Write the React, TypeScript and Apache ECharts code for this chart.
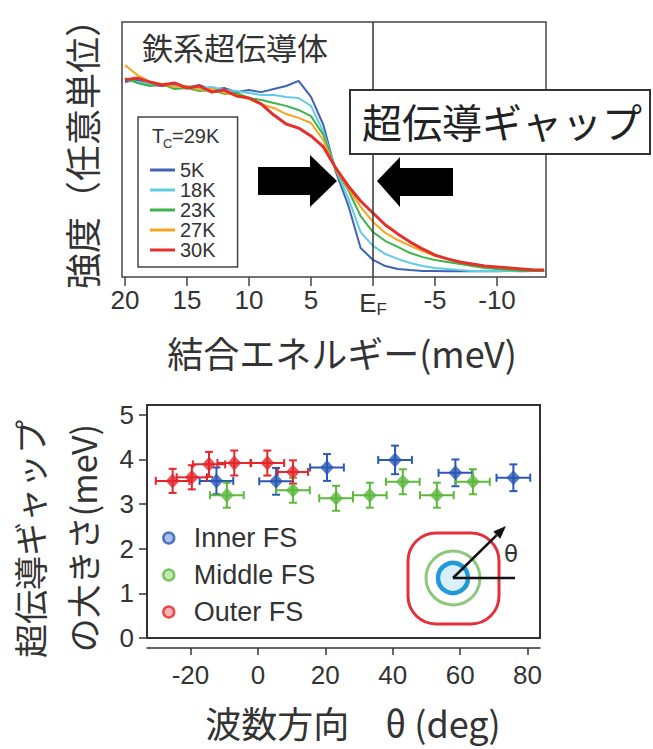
import React, { useEffect, useRef } from 'react';
import * as echarts from 'echarts';

// ---------- Top panel: spectra ----------
const energy = [20, 19, 18, 17, 16, 15, 14, 13, 12, 11, 10, 9, 8, 7, 6, 5, 4, 3, 2, 1, 0, -1, -2, -3, -4, -5, -6, -7, -8, -9, -10, -11, -12, -13, -13.8];
const int5K = [76.5, 77.3, 75.3, 74.9, 75.7, 74.1, 75.3, 73.3, 74.1, 72.5, 73.3, 72.5, 73.7, 74.9, 76.9, 70.6, 59.6, 41.2, 28.2, 11.4, 6.7, 4.3, 3.1, 2.7, 2.4, 2.4, 2.3, 2.4, 2.3, 2.4, 2.3, 2.4, 2.3, 2.4, 2.4];
const int18K = [77.3, 76.5, 75.7, 75.7, 74.9, 74.9, 74.1, 74.5, 73.3, 72.9, 72.2, 71.4, 71.4, 70.6, 70.2, 67.1, 56.9, 42.0, 31.0, 17.6, 12.2, 9.0, 7.1, 5.5, 4.3, 3.5, 3.1, 2.7, 2.4, 2.4, 2.4, 2.4, 2.4, 2.4, 2.4];
const int23K = [78.0, 76.1, 74.9, 75.7, 73.7, 74.1, 72.9, 73.3, 71.8, 72.2, 70.2, 69.4, 68.2, 67.1, 65.5, 63.1, 55.7, 42.0, 34.1, 23.9, 17.6, 14.1, 11.8, 9.4, 7.8, 6.7, 5.9, 5.1, 4.3, 3.5, 3.1, 2.7, 2.4, 2.4, 2.4];
const int27K = [83.1, 79.2, 76.5, 75.7, 74.5, 74.9, 73.3, 73.7, 72.2, 71.4, 69.8, 67.8, 66.3, 63.9, 62.4, 60.4, 53.7, 42.0, 34.9, 27.5, 21.6, 17.3, 14.5, 12.2, 10.2, 8.2, 7.1, 5.9, 5.1, 4.3, 3.9, 3.5, 3.1, 2.7, 2.7];
const int30K = [77.3, 78.0, 76.5, 75.3, 76.1, 74.1, 74.9, 72.5, 73.3, 71.0, 70.2, 67.8, 63.5, 60.0, 58.4, 55.3, 51.0, 42.7, 35.7, 29.8, 25.1, 20.4, 16.9, 13.7, 11.0, 8.6, 7.1, 5.9, 5.1, 4.3, 3.9, 3.5, 3.1, 2.7, 2.7];
const tempNames = ['5K', '18K', '23K', '27K', '30K'];
const tempColors = ['#3f62b8', '#62cbe4', '#3db54b', '#f6a31f', '#e5302a'];
const energyTicks = [20, 15, 10, 5, 0, -5, -10];

// ---------- Bottom panel: gap vs angle ----------
const innerAngle = [-12.3, 5.4, 20.5, 40.7, 58.6, 75.8];
const innerGap = [3.52, 3.51, 3.82, 3.99, 3.7, 3.59];
const innerXErr = [5, 5, 5, 5, 5, 5];
const innerYErr = [0.3, 0.3, 0.3, 0.32, 0.3, 0.3];
const middleAngle = [-9.2, 10.4, 23.2, 33.2, 43.0, 53.1, 63.8];
const middleGap = [3.2, 3.31, 3.13, 3.2, 3.5, 3.2, 3.5];
const middleXErr = [5, 5, 5, 5, 5, 5, 5];
const middleYErr = [0.28, 0.28, 0.28, 0.28, 0.28, 0.28, 0.28];
const outerAngle = [-25.3, -19.6, -14.5, -7.0, 2.8, 10.4];
const outerGap = [3.52, 3.6, 3.89, 3.92, 3.92, 3.72];
const outerXErr = [5, 4.5, 4.8, 5, 5, 4.5];
const outerYErr = [0.27, 0.27, 0.28, 0.28, 0.28, 0.26];
const fsNames = ['Inner FS', 'Middle FS', 'Outer FS'];
const fsColors = ['#2a58b5', '#5db83c', '#e5262d'];
const fsLight = ['#8fb0e8', '#b5e2a0', '#f5a0a4'];
const angleTicks = [-20, 0, 20, 40, 60, 80];
const gapTicks = [0, 1, 2, 3, 4, 5];

const CJK = '"Noto Sans CJK JP"';
const LAT = '"Liberation Sans", Arial, sans-serif';

function errorSeries(name: string, color: string, xs: number[], ys: number[], ex: number[], ey: number[]) {
  return {
    name: name + ' err',
    type: 'custom',
    xAxisIndex: 1,
    yAxisIndex: 1,
    z: 2,
    data: xs.map((x, i) => [x, ys[i], ex[i], ey[i]]),
    encode: { x: 0, y: 1 },
    renderItem: (params: any, api: any) => {
      const x = api.value(0), y = api.value(1), dx = api.value(2), dy = api.value(3);
      const l = api.coord([x - dx, y]);
      const r = api.coord([x + dx, y]);
      const t = api.coord([x, y + dy]);
      const b = api.coord([x, y - dy]);
      const cap = 4;
      const st = { stroke: color, lineWidth: 2 };
      return {
        type: 'group',
        children: [
          { type: 'line', shape: { x1: l[0], y1: l[1], x2: r[0], y2: r[1] }, style: st },
          { type: 'line', shape: { x1: t[0], y1: t[1], x2: b[0], y2: b[1] }, style: st },
          { type: 'line', shape: { x1: l[0], y1: l[1] - cap, x2: l[0], y2: l[1] + cap }, style: st },
          { type: 'line', shape: { x1: r[0], y1: r[1] - cap, x2: r[0], y2: r[1] + cap }, style: st },
          { type: 'line', shape: { x1: t[0] - cap, y1: t[1], x2: t[0] + cap, y2: t[1] }, style: st },
          { type: 'line', shape: { x1: b[0] - cap, y1: b[1], x2: b[0] + cap, y2: b[1] }, style: st },
        ],
      };
    },
  };
}

function scatterSeries(name: string, color: string, xs: number[], ys: number[]) {
  return {
    name,
    type: 'scatter',
    xAxisIndex: 1,
    yAxisIndex: 1,
    z: 3,
    symbol: 'diamond',
    symbolSize: [14, 15],
    itemStyle: { color },
    data: xs.map((x, i) => [x, ys[i]]),
  };
}

export default function App() {
  const ref = useRef<HTMLDivElement>(null);
  useEffect(() => {
    document.body.style.margin = '0';
    const chart = echarts.init(ref.current!, null, { renderer: 'svg', width: 653, height: 749 });
    const spectra = [int5K, int18K, int23K, int27K, int30K];

    const lineSeries: any[] = spectra.map((arr, k) => ({
      name: tempNames[k],
      type: 'line',
      xAxisIndex: 0,
      yAxisIndex: 0,
      showSymbol: false,
      symbol: 'none',
      color: tempColors[k],
      lineStyle: { color: tempColors[k], width: k === 4 ? 3 : 2 },
      data: energy.map((e, i) => [e, arr[i]]),
      z: 2 + k * 0.1,
      markLine: k === 0 ? {
        silent: true,
        symbol: ['none', 'none'],
        label: { show: false },
        lineStyle: { color: '#333', width: 1.5, type: 'solid' },
        data: [{ xAxis: 0 }],
      } : undefined,
    }));

    // arrowhead for inset
    const cx = 453, cy = 578;
    const tip = [506, 526];
    const ux = (tip[0] - cx), uy = (tip[1] - cy);
    const ul = Math.hypot(ux, uy);
    const u = [ux / ul, uy / ul];
    const p = [-u[1], u[0]];
    const base = [tip[0] - 13 * u[0], tip[1] - 13 * u[1]];

    const option: any = {
      animation: false,
      backgroundColor: '#fff',
      grid: [
        { left: 122, top: 22, width: 424, height: 255, show: true, borderColor: '#444', borderWidth: 1.5, backgroundColor: 'transparent' },
        { left: 147, top: 405, width: 393, height: 233, show: true, borderColor: '#333', borderWidth: 2, backgroundColor: 'transparent' },
      ],
      xAxis: [
        {
          type: 'value', gridIndex: 0, min: -13.95, max: 20.24, inverse: true,
          axisLine: { show: false, onZero: false },
          splitLine: { show: false },
          axisTick: { show: true, length: 9, lineStyle: { color: '#444', width: 1.5 }, customValues: energyTicks },
          axisLabel: {
            customValues: energyTicks,
            margin: 10,
            color: '#333',
            fontSize: 26,
            fontFamily: LAT,
            formatter: (v: number) => (v === 0 ? '{e|E}{f|F}' : String(v)),
            rich: {
              e: { fontSize: 26, fontFamily: LAT, color: '#333' },
              f: { fontSize: 17, fontFamily: LAT, color: '#333', padding: [14, 0, 0, 0] },
            },
          },
        },
        {
          type: 'value', gridIndex: 1, min: -32.9, max: 83.7, offset: 10,
          axisLine: { show: true, onZero: false, lineStyle: { color: '#333', width: 1.5 } },
          splitLine: { show: false },
          axisTick: { show: true, length: 7, lineStyle: { color: '#333', width: 1.5 }, customValues: angleTicks },
          axisLabel: { customValues: angleTicks, margin: 14, color: '#333', fontSize: 26, fontFamily: LAT },
        },
      ],
      yAxis: [
        {
          type: 'value', gridIndex: 0, min: 0, max: 100,
          axisLine: { show: false, onZero: false }, axisTick: { show: false }, axisLabel: { show: false }, splitLine: { show: false },
        },
        {
          type: 'value', gridIndex: 1, min: 0, max: 5.22,
          axisLine: { show: true, onZero: false, lineStyle: { color: '#333', width: 2 } },
          splitLine: { show: false },
          axisTick: { show: true, length: 8, lineStyle: { color: '#333', width: 1.5 }, customValues: gapTicks },
          axisLabel: { customValues: gapTicks, margin: 13, color: '#333', fontSize: 26, fontFamily: LAT },
        },
      ],
      legend: [
        {
          data: tempNames,
          orient: 'vertical',
          left: 138,
          top: 117,
          padding: [43, 22, 7, 12],
          itemGap: 0,
          itemWidth: 25,
          itemHeight: 3,
          icon: 'rect',
          borderColor: '#444',
          borderWidth: 1.5,
          backgroundColor: '#fff',
          textStyle: { fontSize: 20, lineHeight: 20, fontFamily: LAT, color: '#333' },
          selectedMode: false,
        },
        {
          data: fsNames.map((n, i) => ({ name: n, itemStyle: { color: fsLight[i], borderColor: fsColors[i], borderWidth: 2.5 } })),
          orient: 'vertical',
          left: 162,
          top: 523,
          padding: 0,
          itemGap: 7,
          itemWidth: 12,
          itemHeight: 11,
          icon: 'circle',
          textStyle: { fontSize: 27, lineHeight: 30, fontFamily: LAT, color: '#333', padding: [0, 0, 0, 14] },
          selectedMode: false,
        },
      ],
      series: [
        ...lineSeries,
        errorSeries(fsNames[0], fsColors[0], innerAngle, innerGap, innerXErr, innerYErr),
        errorSeries(fsNames[1], fsColors[1], middleAngle, middleGap, middleXErr, middleYErr),
        errorSeries(fsNames[2], fsColors[2], outerAngle, outerGap, outerXErr, outerYErr),
        scatterSeries(fsNames[0], fsColors[0], innerAngle, innerGap),
        scatterSeries(fsNames[1], fsColors[1], middleAngle, middleGap),
        scatterSeries(fsNames[2], fsColors[2], outerAngle, outerGap),
      ],
      graphic: [
        // top panel titles
        { type: 'text', z: 20, x: 81, y: 145, rotation: Math.PI / 2, style: { text: '強度（任意単位）', fontSize: 36, fontFamily: CJK, fill: '#333', align: 'center', verticalAlign: 'middle' } },
        { type: 'text', z: 20, x: 342, y: 352, style: { text: '結合エネルギー(meV)', fontSize: 36, fontFamily: CJK, fill: '#333', align: 'center', verticalAlign: 'middle' } },
        { type: 'text', z: 20, x: 142, y: 46, style: { text: '鉄系超伝導体', fontSize: 31, fontFamily: CJK, fill: '#333', align: 'left', verticalAlign: 'middle' } },
        // Tc label in legend
        { type: 'text', z: 20, x: 152, y: 136, style: { text: 'T', fontSize: 20, fontFamily: LAT, fill: '#333', align: 'left', verticalAlign: 'middle' } },
        { type: 'text', z: 20, x: 163, y: 143, style: { text: 'C', fontSize: 13, fontFamily: LAT, fill: '#333', align: 'left', verticalAlign: 'middle' } },
        { type: 'text', z: 20, x: 172, y: 136, style: { text: '=29K', fontSize: 20, fontFamily: LAT, fill: '#333', align: 'left', verticalAlign: 'middle' } },
        // arrows
        { type: 'polygon', z: 20, shape: { points: [[258, 167], [310, 167], [310, 155], [337, 181], [310, 207], [310, 195], [258, 195]] }, style: { fill: '#000' } },
        { type: 'polygon', z: 20, shape: { points: [[377, 181], [400, 157], [400, 168], [453, 168], [453, 196], [400, 196], [400, 207]] }, style: { fill: '#000' } },
        // gap annotation box
        { type: 'rect', z: 20, shape: { x: 350, y: 90, width: 300, height: 64 }, style: { fill: '#fff', stroke: '#333', lineWidth: 2 } },
        { type: 'text', z: 21, x: 362, y: 121, style: { text: '超伝導ギャップ', fontSize: 40, fontFamily: CJK, fill: '#222', align: 'left', verticalAlign: 'middle' } },
        // bottom panel titles
        { type: 'text', z: 20, x: 29, y: 539, rotation: Math.PI / 2, style: { text: '超伝導ギャップ', fontSize: 34, fontFamily: CJK, fill: '#333', align: 'center', verticalAlign: 'middle' } },
        { type: 'text', z: 20, x: 82, y: 538, rotation: Math.PI / 2, style: { text: 'の大きさ(meV)', fontSize: 34, fontFamily: CJK, fill: '#333', align: 'center', verticalAlign: 'middle' } },
        { type: 'text', z: 20, x: 353, y: 722, style: { text: '波数方向　θ (deg)', fontSize: 36, fontFamily: CJK, fill: '#333', align: 'center', verticalAlign: 'middle' } },
        // inset: Fermi surfaces
        { type: 'rect', z: 20, shape: { x: 408, y: 533, width: 91, height: 91, r: 28 }, style: { fill: 'none', stroke: '#e3303a', lineWidth: 3 } },
        { type: 'circle', z: 20, shape: { cx, cy, r: 27 }, style: { fill: 'none', stroke: '#8dc97d', lineWidth: 3 } },
        { type: 'circle', z: 20, shape: { cx, cy, r: 15 }, style: { fill: '#d9f0fa', stroke: '#1e9bd7', lineWidth: 4.5 } },
        { type: 'line', z: 21, shape: { x1: cx, y1: cy, x2: 515, y2: cy }, style: { stroke: '#111', lineWidth: 2.5 } },
        { type: 'line', z: 21, shape: { x1: cx, y1: cy, x2: base[0], y2: base[1] }, style: { stroke: '#111', lineWidth: 2.5 } },
        { type: 'polygon', z: 21, shape: { points: [tip, [base[0] + 5 * p[0], base[1] + 5 * p[1]], [base[0] - 5 * p[0], base[1] - 5 * p[1]]] }, style: { fill: '#111' } },
        { type: 'text', z: 21, x: 511, y: 554, style: { text: 'θ', fontSize: 23, fontFamily: '"DejaVu Sans"', fill: '#333', align: 'center', verticalAlign: 'middle' } },
      ],
    };
    chart.setOption(option);
    return () => chart.dispose();
  }, []);
  return <div ref={ref} style={{ width: 653, height: 749 }} />;
}
